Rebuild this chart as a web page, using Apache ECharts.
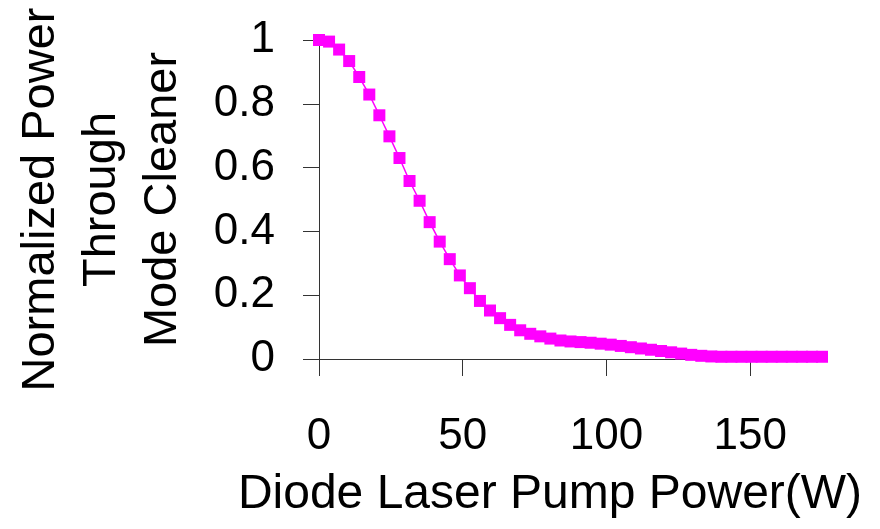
<!DOCTYPE html>
<html>
<head>
<meta charset="utf-8">
<script src="https://cdn.jsdelivr.net/npm/echarts@6/dist/echarts.min.js"></script>
<style>
  html, body { margin: 0; padding: 0; background: #ffffff; }
  #chart { width: 880px; height: 529px; }
</style>
</head>
<body>
<div id="chart"></div>
<script>
// Diode laser pump power (W), sampled every 3.5 W
const pumpPower = [
  0, 3.5, 7, 10.5, 14, 17.5, 21, 24.5, 28, 31.5,
  35, 38.5, 42, 45.5, 49, 52.5, 56, 59.5, 63, 66.5,
  70, 73.5, 77, 80.5, 84, 87.5, 91, 94.5, 98, 101.5,
  105, 108.5, 112, 115.5, 119, 122.5, 126, 129.5, 133, 136.5,
  140, 143.5, 147, 150.5, 154, 157.5, 161, 164.5, 168, 171.5, 175
];

// Normalized power transmitted through the mode cleaner
const normalizedPower = [
  1.000, 0.995, 0.970, 0.934, 0.884, 0.829, 0.764, 0.698, 0.630, 0.558,
  0.496, 0.429, 0.368, 0.313, 0.262, 0.222, 0.182, 0.152, 0.128, 0.107,
  0.090, 0.079, 0.071, 0.064, 0.058, 0.055, 0.053, 0.051, 0.048, 0.045,
  0.041, 0.037, 0.033, 0.029, 0.025, 0.021, 0.017, 0.013, 0.010, 0.008,
  0.007, 0.007, 0.007, 0.007, 0.007, 0.007, 0.007, 0.007, 0.007, 0.007, 0.007
];

const xTicks = [0, 50, 100, 150];
const yTicks = [0, 0.2, 0.4, 0.6, 0.8, 1];

const xTitle = 'Diode Laser Pump Power(W)';
const yTitle = 'Normalized Power\nThrough\nMode Cleaner';

const FONT = '"Liberation Sans", Arial, sans-serif';
const points = pumpPower.map((x, i) => [x, normalizedPower[i]]);

const chart = echarts.init(document.getElementById('chart'), null, { renderer: 'canvas' });
chart.setOption({
  backgroundColor: '#ffffff',
  animation: false,
  grid: { left: 319, right: 58, top: 40, bottom: 170, containLabel: false },
  xAxis: {
    type: 'value',
    min: 0,
    max: 175,
    interval: 50,
    name: xTitle,
    nameLocation: 'middle',
    nameGap: 112,
    nameTextStyle: { fontFamily: FONT, fontSize: 48, color: '#000', padding: [0, 41, 0, 0] },
    axisLine: { show: true, onZero: false, lineStyle: { color: '#333', width: 1 } },
    axisTick: { show: true, inside: false, length: 17, lineStyle: { color: '#333', width: 1 },
      customValues: xTicks },
    axisLabel: { fontFamily: FONT, fontSize: 44, color: '#000', margin: 56,
      customValues: xTicks },
    splitLine: { show: false }
  },
  yAxis: {
    type: 'value',
    min: 0,
    max: 1,
    interval: 0.2,
    name: yTitle,
    nameLocation: 'middle',
    nameRotate: 90,
    nameGap: 125,
    nameTextStyle: { fontFamily: FONT, fontSize: 47, color: '#000', lineHeight: 61 },
    axisLine: { show: true, lineStyle: { color: '#333', width: 1 } },
    axisTick: { show: true, inside: false, length: 16, lineStyle: { color: '#333', width: 1 },
      customValues: yTicks },
    axisLabel: { fontFamily: FONT, fontSize: 44, color: '#000', margin: 44,
      customValues: yTicks },
    splitLine: { show: false }
  },
  series: [{
    type: 'line',
    data: points,
    symbol: 'rect',
    symbolSize: 12,
    showAllSymbol: true,
    itemStyle: { color: '#ff00ff' },
    lineStyle: { color: '#ff00ff', width: 1.5 },
    clip: false
  }]
});
</script>
</body>
</html>
